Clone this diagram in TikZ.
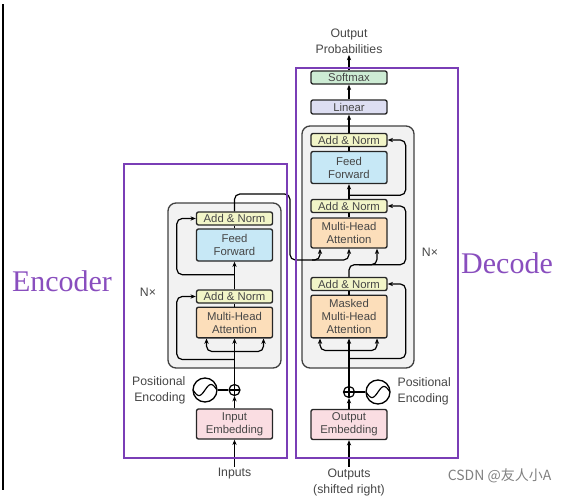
\documentclass[tikz,border=0pt]{standalone}
\usepackage{fontspec}
\setmainfont{Liberation Sans}
\newfontfamily\labelfont{Liberation Serif}
\newfontfamily\cjk{Noto Sans CJK SC}
\usetikzlibrary{arrows.meta,calc}

\definecolor{normcol}{RGB}{242,245,200}
\definecolor{ffcol}{RGB}{199,232,246}
\definecolor{attcol}{RGB}{252,222,186}
\definecolor{embcol}{RGB}{250,221,226}
\definecolor{softcol}{RGB}{205,236,212}
\definecolor{lincol}{RGB}{221,222,242}
\definecolor{stackcol}{RGB}{242,242,242}
\definecolor{purp}{RGB}{122,62,182}
\definecolor{purptext}{RGB}{137,78,190}
\definecolor{txtcol}{RGB}{70,70,70}

\tikzset{
  >={Stealth[length=4pt,width=3.2pt]},
  block/.style={draw=black!85, line width=1pt, rounded corners=1.5pt, minimum width=57pt,
    inner sep=0pt, align=center, text=txtcol, font=\fontsize{8.5}{9.8}\selectfont},
  addnorm/.style={block, fill=normcol, minimum height=9.75pt},
  ff/.style={block, fill=ffcol, minimum height=24pt},
  att/.style={block, fill=attcol, minimum height=23pt},
  emb/.style={block, fill=embcol, minimum height=22.5pt},
  softbox/.style={block, fill=softcol, minimum height=9.75pt},
  linbox/.style={block, fill=lincol, minimum height=10.5pt},
  lbl/.style={inner sep=1pt, align=center, text=txtcol, font=\fontsize{9.2}{12}\selectfont},
  wire/.style={line width=0.9pt},
  stack/.style={draw=black!75, fill=stackcol, line width=1pt, rounded corners=6pt},
  frame/.style={draw=purp, line width=2.2pt},
  adder/.style={draw, circle, line width=0.9pt, minimum size=8.25pt, inner sep=0pt,
    path picture={\draw[line width=0.8pt] (path picture bounding box.north) -- (path picture bounding box.south)
      (path picture bounding box.west) -- (path picture bounding box.east);}},
  wave/.style={draw, circle, line width=1pt, minimum size=18pt, inner sep=0pt,
    path picture={\draw[line width=0.9pt, shift={(path picture bounding box.center)}]
      plot[domain=-12:12, samples=40, smooth] (\x, {-5.5*sin(15*\x)});}}
}

\begin{document}
\begin{tikzpicture}[x=0.75pt,y=-0.75pt]
    \useasboundingbox (0,0) rectangle (571,496);
    \draw[line width=1.5pt] (3,4) -- (3,490);

    % Encoder stack
    \draw[stack] (168,203) rectangle (281,368);
    \node[addnorm] (encAN2) at (234.5,218.5) {Add \& Norm};
    \node[ff] (encFF) at (234.5,245) {Feed\\Forward};
    \node[addnorm] (encAN1) at (234.5,296.5) {Add \& Norm};
    \node[att] (encMHA) at (234.5,322.5) {Multi-Head\\Attention};
    \node[adder] (encAdd) at (234.5,390) {};
    \node[wave] (encPE) at (205,390) {};
    \node[emb] (encEmb) at (234.5,424) {Input\\Embedding};
    \node[lbl] (inputs) at (234.5,474) {Inputs};
    \node[lbl, anchor=east, align=right] (encPEtext) at (187,390) {Positional\\Encoding};
    \node[lbl] (encN) at (148,292) {N×};

    % Decoder stack
    \draw[stack] (302,126) rectangle (414,368);
    \node[softbox] (decSoft) at (349,77.5) {Softmax};
    \node[linbox] (decLin) at (349,107) {Linear};
    \node[addnorm] (decAN3) at (349,140) {Add \& Norm};
    \node[ff] (decFF) at (349,167.5) {Feed\\Forward};
    \node[addnorm] (decAN2) at (349,206) {Add \& Norm};
    \node[att, minimum height=22.5pt] (decMHA) at (349,233) {Multi-Head\\Attention};
    \node[addnorm] (decAN1) at (349,284) {Add \& Norm};
    \node[att, minimum height=32pt] (decMMHA) at (349,316.5) {Masked\\Multi-Head\\Attention};
    \node[adder] (decAdd) at (349,392) {};
    \node[wave] (decPE) at (378,392) {};
    \node[emb] (decEmb) at (349,424.5) {Output\\Embedding};
    \node[lbl] (outputs) at (349,482) {Outputs\\(shifted right)};
    \node[lbl, anchor=west, align=left] (decPEtext) at (396,391) {Positional\\Encoding};
    \node[lbl] (decN) at (430,252) {N×};
    \node[lbl] (outprob) at (349,41) {Output\\Probabilities};

    % Encoder wires
    \draw[wire,->] (inputs.north) -- (encEmb.south);
    \draw[wire,->] (encEmb.north) -- (encAdd.south);
    \draw[wire] (encPE.east) -- (encAdd.west);
    \draw[wire,->] (encAdd.north) -- (encMHA.south);
    \draw[wire,->,rounded corners=4pt] ($(encMHA.south)+(0,13)$) -| ($(encMHA.south)+(-28,0)$);
    \draw[wire,->,rounded corners=4pt] ($(encMHA.south)+(0,13)$) -| ($(encMHA.south)+(29,0)$);
    \draw[wire,->,rounded corners=4pt] ($(encMHA.south)+(0,21)$) -| ($(encAN1.west)+(-19,0)$) -- (encAN1.west);
    \draw[wire] (encMHA.north) -- (encAN1.south);
    \draw[wire,->] (encAN1.north) -- (encFF.south);
    \draw[wire,->,rounded corners=4pt] ($(encFF.south)+(0,13)$) -| ($(encAN2.west)+(-19,0)$) -- (encAN2.west);
    \draw[wire] (encFF.north) -- (encAN2.south);

    % Encoder output into decoder
    \draw[wire,->,rounded corners=4pt] (encAN2.north) |- (290,194) -- (290,260) -| ($(decMHA.south)+(-29,0)$);
    \draw[wire,->,rounded corners=4pt] (312,260) -| (decMHA.south);

    % Decoder wires
    \draw[wire,->] (outputs.north) -- (decEmb.south);
    \draw[wire,->] (decEmb.north) -- (decAdd.south);
    \draw[wire] (decPE.west) -- (decAdd.east);
    \draw[wire,->] (decAdd.north) -- (decMMHA.south);
    \draw[wire,->,rounded corners=4pt] ($(decMMHA.south)+(0,12)$) -| ($(decMMHA.south)+(-29,0)$);
    \draw[wire,->,rounded corners=4pt] ($(decMMHA.south)+(0,12)$) -| ($(decMMHA.south)+(28,0)$);
    \draw[wire,->,rounded corners=4pt] ($(decMMHA.south)+(0,20)$) -| ($(decAN1.east)+(18,0)$) -- (decAN1.east);
    \draw[wire] (decMMHA.north) -- (decAN1.south);
    \draw[wire,->,rounded corners=4pt] (decAN1.north) |- ($(decMHA.south)+(28,16)$) -- ($(decMHA.south)+(28,0)$);
    \draw[wire,->,rounded corners=4pt] ($(decMHA.south)+(10,16)$) -| ($(decAN2.east)+(18,0)$) -- (decAN2.east);
    \draw[wire] (decMHA.north) -- (decAN2.south);
    \draw[wire,->] (decAN2.north) -- (decFF.south);
    \draw[wire,->,rounded corners=4pt] ($(decFF.south)+(0,11)$) -| ($(decAN3.east)+(18,0)$) -- (decAN3.east);
    \draw[wire] (decFF.north) -- (decAN3.south);
    \draw[wire,->] (decAN3.north) -- (decLin.south);
    \draw[wire,->] (decLin.north) -- (decSoft.south);
    \draw[wire,->] (decSoft.north) -- (outprob.south);

    % Purple frames and labels
    \draw[frame] (124,164) rectangle (287,458);
    \draw[frame] (296,68) rectangle (458,458);
    \node[text=purptext, font=\labelfont\fontsize{22.5}{24}\selectfont] (encLabel) at (62,281) {Encoder};
    \node[text=purptext, font=\labelfont\fontsize{22.5}{24}\selectfont] (decLabel) at (507,263) {Decode};
    \node[anchor=east, text=black!50, font=\cjk\fontsize{10.5}{12}\selectfont] (mark) at (556,476) {CSDN @友人小A};
\end{tikzpicture}
\end{document}
